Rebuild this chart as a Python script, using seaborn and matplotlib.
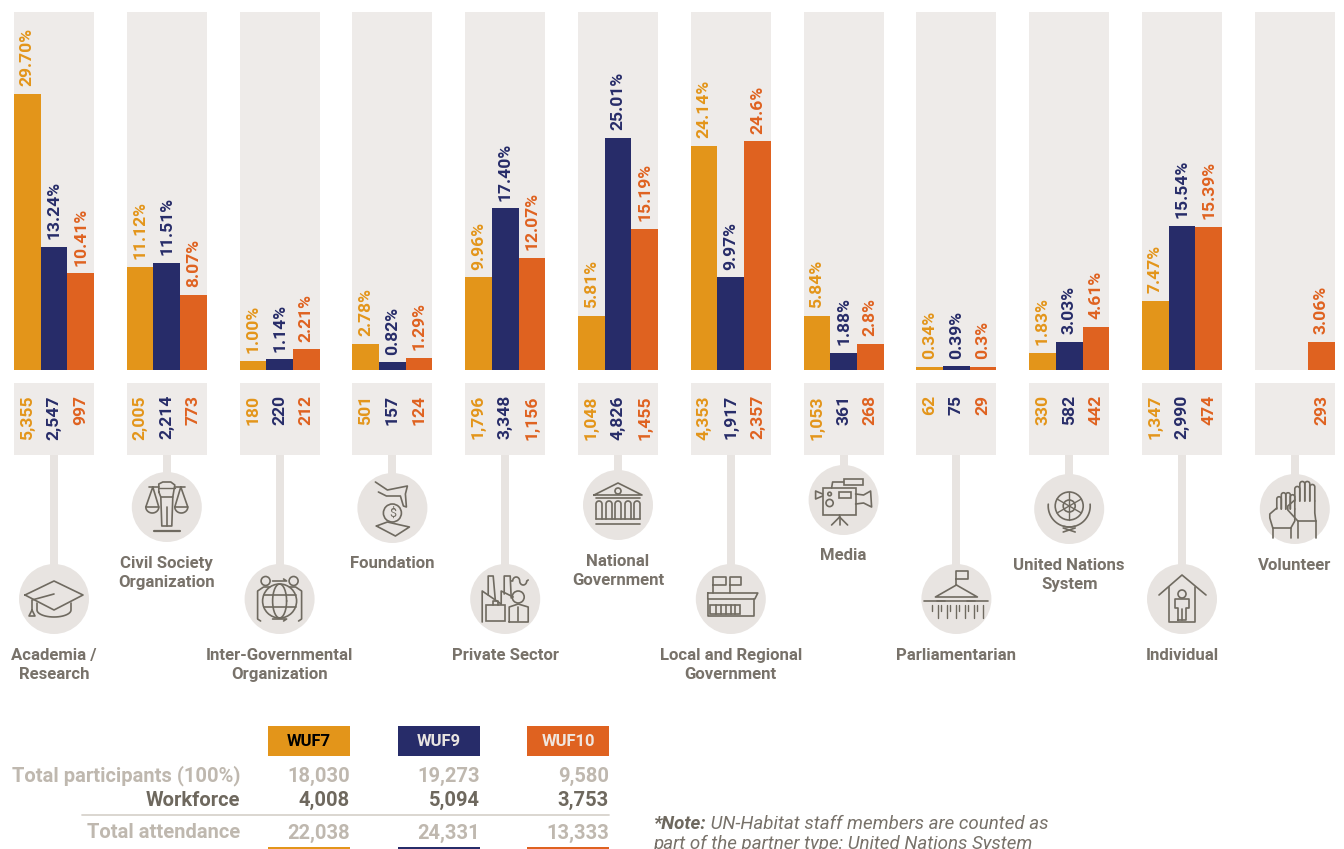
import numpy as np
import pandas as pd
import matplotlib
matplotlib.use("Agg")
import matplotlib.pyplot as plt
from matplotlib.patches import Circle, Rectangle
import seaborn as sns

partners = ["Academia /\nResearch", "Civil Society\nOrganization", "Inter-Governmental\nOrganization",
            "Foundation", "Private Sector", "National\nGovernment", "Local and Regional\nGovernment",
            "Media", "Parliamentarian", "United Nations\nSystem", "Individual", "Volunteer"]
editions = ["WUF7", "WUF9", "WUF10"]

wuf7_pct = ["29.70%", "11.12%", "1.00%", "2.78%", "9.96%", "5.81%", "24.14%", "5.84%", "0.34%", "1.83%", "7.47%", ""]
wuf9_pct = ["13.24%", "11.51%", "1.14%", "0.82%", "17.40%", "25.01%", "9.97%", "1.88%", "0.39%", "3.03%", "15.54%", ""]
wuf10_pct = ["10.41%", "8.07%", "2.21%", "1.29%", "12.07%", "15.19%", "24.6%", "2.8%", "0.3%", "4.61%", "15.39%", "3.06%"]

wuf7_count = ["5,355", "2,005", "180", "501", "1,796", "1,048", "4,353", "1,053", "62", "330", "1,347", ""]
wuf9_count = ["2,547", "2,214", "220", "157", "3,348", "4,826", "1,917", "361", "75", "582", "2,990", ""]
wuf10_count = ["997", "773", "212", "124", "1,156", "1,455", "2,357", "268", "29", "442", "474", "293"]

row_labels = ["Total participants (100%)", "Workforce", "Total attendance"]
wuf7_totals = ["18,030", "4,008", "22,038"]
wuf9_totals = ["19,273", "5,094", "24,331"]
wuf10_totals = ["9,580", "3,753", "13,333"]

ORANGE, NAVY, RED = "#E3951A", "#272C69", "#DF6220"
PANEL, STEM = "#EEEBE9", "#E8E4E1"
TEXT, LIGHT, DARK = "#78726A", "#BFB8AF", "#6E685E"
ICON = "#6F6A60"
colors = [ORANGE, NAVY, RED]
pct_lists = [wuf7_pct, wuf9_pct, wuf10_pct]
count_lists = [wuf7_count, wuf9_count, wuf10_count]

W, H = 1344, 849
STEP = 112.8
X0 = 54
GROUP = 80 / STEP
xlim = (-X0 / STEP, (W - X0) / STEP)

sns.set_theme(style="white")
plt.rcParams["font.family"] = ["Roboto", "DejaVu Sans"]

rows = []
for ed, labs in zip(editions, pct_lists):
    for p, lab in zip(partners, labs):
        rows.append({"partner": p, "edition": ed, "share": float(lab[:-1]) if lab else np.nan})
df = pd.DataFrame(rows)

fig = plt.figure(figsize=(W / 100, H / 100), dpi=100, facecolor="white")


def axes_px(top, bottom):
    return fig.add_axes([0, 1 - bottom / H, 1, (bottom - top) / H])


# shares
ax = axes_px(12, 370)
for i in range(len(partners)):
    ax.axvspan(i - GROUP / 2, i + GROUP / 2, color=PANEL, lw=0, zorder=0)
sns.barplot(data=df, x="partner", y="share", hue="edition", order=partners, hue_order=editions,
            palette=colors, width=GROUP, gap=0, saturation=1, legend=False, ax=ax, zorder=2,
            linewidth=0, edgecolor="none")
ax.set_xlim(xlim)
ax.set_ylim(0, 358 / 9.29)
ax.set_axis_off()
for j, labs in enumerate(pct_lists):
    for i, lab in enumerate(labs):
        if lab:
            ax.annotate(lab, (i + (j - 1) * GROUP / 3, float(lab[:-1])), xytext=(0, 5.6),
                        textcoords="offset points", rotation=90, ha="center", va="bottom",
                        color=colors[j], fontsize=12.6, fontweight="bold")

# head counts
ax2 = axes_px(383, 455)
for i in range(len(partners)):
    ax2.axvspan(i - GROUP / 2, i + GROUP / 2, color=PANEL, lw=0)
ax2.set_xlim(xlim)
ax2.set_ylim(72, 0)
ax2.set_axis_off()
for j, labs in enumerate(count_lists):
    for i, lab in enumerate(labs):
        if lab:
            ax2.text(i + (j - 1) * GROUP / 3, 12, lab, rotation=90, ha="center", va="top",
                     color=colors[j], fontsize=12.6, fontweight="bold")

# everything below in pixel coordinates
ov = fig.add_axes([0, 0, 1, 1])
ov.set_xlim(0, W)
ov.set_ylim(H, 0)
ov.set_axis_off()
ov.patch.set_alpha(0)

circle_y = [599, 507, 599, 508, 599, 505, 599, 500, 599, 509, 599, 509]
label_y = [665, 573, 665, 564, 656, 571, 665, 556, 656, 575, 656, 566]


def line(cx, cy, pts, lw=1.2):
    xs, ys = zip(*pts)
    ov.plot(np.array(xs) + cx, np.array(ys) + cy, color=ICON, lw=lw, solid_capstyle="round", zorder=5)


def ring(cx, cy, x, y, r):
    ov.add_patch(Circle((cx + x, cy + y), r, fill=False, ec=ICON, lw=1.2, zorder=5))


def arc(x, y, rx, ry, a0, a1):
    t = np.radians(np.linspace(a0, a1, 30))
    return list(zip(x + rx * np.cos(t), y + ry * np.sin(t)))


def cap(c, y):
    line(c, y, [(-29, -4), (0, -18), (29, -4), (0, 11), (-29, -4)])
    line(c, y, [(-17, 4), (-17, 11)] + arc(0, 11, 17, 7, 180, 0) + [(17, 4)])
    line(c, y, [(0, -5), (-22, 1), (-22, 11), (-25, 17), (-19, 17), (-22, 11)])


def scales(c, y):
    line(c, y, [(-18, -20), (-8, -20)])
    line(c, y, [(8, -20), (18, -20)])
    for s in (-1, 1):
        line(c, y, [(s * 14, -20), (s * 21, 0), (s * 8, 0), (s * 14, -20)])
        line(c, y, arc(s * 14.5, 0, 6.5, 6, 0, 180))
    line(c, y, [(-8, -15), (-8, -23), (-4, -25), (4, -25), (8, -22), (6, -10), (-6, -10), (-8, -15)])
    line(c, y, [(-8, -19), (8, -19)], lw=1.0)
    line(c, y, [(-6, -10), (-5, 19), (5, 19), (6, -10)])
    line(c, y, [(0, 0), (0, 19)])
    line(c, y, [(-13, 24), (13, 24)], lw=1.6)


def globe(c, y):
    ring(c, y, 0, 2, 17)
    line(c, y, arc(0, 2, 7, 17, 0, 360))
    line(c, y, [(-16, -4), (16, -4)])
    line(c, y, [(-16, 8), (16, 8)])
    ring(c, y, -14, -18, 4.5)
    ring(c, y, 14, -18, 4.5)
    line(c, y, [(-19, 22), (-22, 20), (-22, -8), (-16, -12), (-10, -12)])
    line(c, y, [(19, 22), (22, 20), (22, -8), (16, -12), (10, -12)])
    line(c, y, [(-7, -18), (7, -18), (4, -20)])
    line(c, y, [(-7, 20), (7, 20), (4, 22)])


def coin(c, y):
    ring(c, y, 0, 5, 9)
    ov.text(c, y + 5.5, "$", ha="center", va="center", color=ICON, fontsize=9, zorder=5)
    line(c, y, [(-17, -26), (-5, -18), (15, -22), (13, -14), (14, -1), (11, -2), (8, -12), (-6, -12), (-14, -16)])
    line(c, y, [(-16, 18), (-5, 14), (8, 17), (17, 19), (3, 28), (-16, 18)])


def factory(c, y):
    line(c, y, [(-23, 23), (-23, -8), (-4, 5)])
    line(c, y, [(-4, 5), (-4, -8), (8, -2)])
    line(c, y, [(-17, -4), (-17, -23), (-12, -23), (-10, 0)])
    line(c, y, [(-1, -5), (-1, -23), (5, -23), (6, -1)])
    line(c, y, [(6, -18)] + arc(11, -18, 3.5, 4, 180, 360) + arc(18, -18, 3.5, 4, 180, 0) + [(23, -19)])
    ov.add_patch(Rectangle((c - 19, y + 6), 19, 16, fill=False, ec=ICON, lw=1.2, zorder=5))
    line(c, y, [(-12, 6), (-12, 2), (-7, 2), (-7, 6)])
    ring(c, y, 13, -2, 6)
    line(c, y, [(4, 23), (4, 8), (13, 5), (23, 8), (23, 23), (4, 23)])
    line(c, y, [(13, 8), (13, 22)])


def bank(c, y):
    line(c, y, [(-24, -10), (0, -22), (24, -10), (-24, -10)])
    ring(c, y, 0, -14, 3)
    line(c, y, [(-22, -7), (22, -7)])
    for x in (-22, -12, -3, 7, 16):
        line(c, y, [(x, 14), (x, -1)] + arc(x + 3, -1, 3, 3, 180, 360) + [(x + 6, 14)])
    line(c, y, [(-22, 14), (22, 14)])
    line(c, y, [(-22, 19), (22, 19)])


def townhall(c, y):
    line(c, y, [(-18, -6), (-18, -22), (-5, -22), (-5, -14), (-18, -14)])
    line(c, y, [(-1, -6), (-1, -22), (10, -22), (10, -14), (-1, -14)])
    line(c, y, [(-23, -6), (27, -6), (24, 0), (-23, 0), (-23, -6)])
    line(c, y, [(-23, 0), (-23, 17), (23, 17), (23, 0)])
    ov.add_patch(Rectangle((c - 21, y + 6), 30, 9, fill=False, ec=ICON, lw=1.2, zorder=5))
    for x in (-15, -10, -5, 0, 4):
        line(c, y, [(x, 6), (x, 15)])


def camera(c, y):
    ov.add_patch(Rectangle((c - 21, y - 12), 33, 27, fill=False, ec=ICON, lw=1.2, zorder=5))
    ov.add_patch(Rectangle((c - 5, y - 8), 12, 6, fill=False, ec=ICON, lw=1.2, zorder=5))
    ring(c, y, -14, -6, 1.8)
    ring(c, y, -14, 3, 3.6)
    line(c, y, [(-21, -6), (-28, -9), (-28, -1), (-21, -4)])
    line(c, y, [(12, -6), (20, -5), (27, -9), (28, 7), (20, 3), (12, 4)])
    line(c, y, [(-12, -12), (-11, -18), (0, -18)])
    ov.add_patch(Rectangle((c + 0, y - 21), 19, 6, fill=False, ec=ICON, lw=1.2, zorder=5))
    line(c, y, [(-4, 15), (-4, 17), (-12, 25)])
    line(c, y, [(-4, 17), (-4, 25)])
    line(c, y, [(-4, 17), (4, 25)])


def congress(c, y):
    line(c, y, [(0, -14), (0, -28), (12, -28), (12, -20), (0, -20)])
    line(c, y, [(0, -14), (-21, -2), (21, -2), (0, -14)])
    line(c, y, [(-32, 2), (-11, 2)])
    line(c, y, [(-19, 2), (19, 2)])
    line(c, y, [(11, 2), (32, 2)])
    for x in (-21, -12, -3, 6, 15, 24):
        line(c, y, [(x - 3, 6), (x - 3, 12)], lw=1.0)
        line(c, y, [(x + 3, 6), (x + 3, 19)], lw=1.0)


def un_emblem(c, y):
    ring(c, y, 0, -3, 14)
    ring(c, y, 0, -3, 6)
    for a in (30, 90, 150, 210, 270, 330):
        t = np.radians(a)
        line(c, y, [(0, -3), (14 * np.cos(t), -3 + 14 * np.sin(t))], lw=1.0)
    line(c, y, arc(0, -3, 21, 21, -5, 105))
    line(c, y, arc(0, -3, 21, 21, 75, 185))
    line(c, y, [(-6, 19), (6, 23)])
    line(c, y, [(6, 19), (-6, 23)])


def house(c, y):
    line(c, y, [(-23, -4), (0, -24), (24, -4)])
    line(c, y, [(-13, -12), (-13, 23), (13, 23), (13, -12)])
    ring(c, y, 0, -5, 4)
    line(c, y, [(-4, 21), (-4, 9), (-7, 9), (-7, 0), (7, 0), (7, 9), (4, 9), (4, 21), (-4, 21)])
    line(c, y, [(0, 10), (0, 21)])


def raised_hand(c, y, left, step, base, tops, wrist):
    # fingers are arcs on a common base line, the palm narrows to the wrist
    for n, top in enumerate(tops):
        x = left + n * step
        line(c, y, [(x, base)] + arc(x + step / 2, top, step / 2, step / 2, 180, 360) + [(x + step, base)])
    right = left + step * len(tops)
    line(c, y, [(left, base - 1), (left - 7, base + 5), (left - 7, base + 9), (wrist[0], wrist[2])])
    line(c, y, [(right, base), (right, base + 12), (wrist[1], wrist[2])])
    line(c, y, [(wrist[0], wrist[2]), (wrist[1], wrist[2])])
    line(c, y, [(wrist[0], wrist[2]), (wrist[0], 29)])
    line(c, y, [(wrist[1], wrist[2]), (wrist[1], 29)])


def hands(c, y):
    raised_hand(c, y, -18, 4.5, 0, [-10, -14, -14, -12], (-22, -4, 19))
    raised_hand(c, y, 0, 5, -8, [-20, -25, -25, -22], (3, 21, 12))


icons = [cap, scales, globe, coin, factory, bank, townhall, camera, congress, un_emblem, house, hands]

for i, name in enumerate(partners):
    cx = X0 + STEP * i
    ov.add_patch(Rectangle((cx - 4, 455), 8, circle_y[i] - 455, color=STEM, lw=0, zorder=1))
    ov.add_patch(Circle((cx, circle_y[i]), 35, color=STEM, lw=0, zorder=2))
    icons[i](cx, circle_y[i])
    ov.text(cx, label_y[i], name, ha="center", va="center", ma="center", color=TEXT, fontsize=12.1,
            fontweight="bold", linespacing=1.28)

# totals table
box_x = [268, 398, 527]
text_colors = ["black", "#E8E4E1", "#F0E6DE"]
for x, c, ed, tc in zip(box_x, colors, editions, text_colors):
    ov.add_patch(Rectangle((x, 726), 82, 30, color=c, lw=0))
    ov.add_patch(Rectangle((x, 847), 82, 2, color=c, lw=0))
    ov.text(x + 41, 741, ed, ha="center", va="center", color=tc, fontsize=12, fontweight="bold")

row_y = [776, 800, 833]
row_colors = [LIGHT, DARK, LIGHT]
for k, lab in enumerate(row_labels):
    ov.text(240, row_y[k], lab, ha="right", va="center", color=row_colors[k], fontsize=14.5, fontweight="bold")
    for x, vals in zip(box_x, [wuf7_totals, wuf9_totals, wuf10_totals]):
        ov.text(x + 82, row_y[k], vals[k], ha="right", va="center", color=row_colors[k], fontsize=14.5,
                fontweight="bold")
ov.plot([82, 609], [815, 815], color="#D8D3CD", lw=1.3)

note = ov.text(653, 824, "*Note:", ha="left", va="center", color=DARK, fontsize=13.5, fontweight="bold",
               style="italic")
ov.annotate(" UN-Habitat staff members are counted as", xy=(1, 0.5), xycoords=note, va="center", ha="left",
            color=TEXT, fontsize=13.5, style="italic")
ov.text(653, 844, "part of the partner type: United Nations System", ha="left", va="center", color=TEXT,
        fontsize=13.5, style="italic", clip_on=True)

fig.savefig("out.png", dpi=100)
